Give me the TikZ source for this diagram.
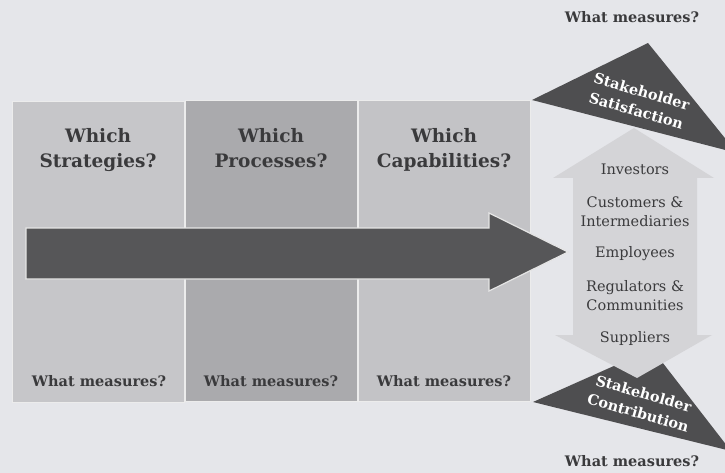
\documentclass[tikz,border=0pt]{standalone}
\usepackage{fontspec}
\setmainfont{DejaVu Serif}
\definecolor{bgc}{RGB}{229,230,234}
\definecolor{colA}{RGB}{198,198,201}
\definecolor{colB}{RGB}{170,170,173}
\definecolor{colC}{RGB}{195,195,198}
\definecolor{darkarrow}{RGB}{86,86,88}
\definecolor{darktri}{RGB}{78,78,80}
\definecolor{lightshape}{RGB}{212,212,215}
\definecolor{txt}{RGB}{58,58,60}
\tikzset{
  colbox/.style={draw=white!85!gray, line width=1.2pt, minimum width=172pt, minimum height=301pt, anchor=north west, inner sep=0pt},
  head/.style={font=\fontsize{18.5}{25}\selectfont\bfseries, text=txt, align=center, anchor=north, inner sep=0pt},
  meas/.style={font=\fontsize{14.5}{16}\selectfont\bfseries, text=txt},
  who/.style={font=\fontsize{14.5}{19}\selectfont, text=txt, align=center},
  tri/.style={font=\fontsize{14.5}{20}\selectfont\bfseries, text=white, align=center},
}
\begin{document}
\begin{tikzpicture}[x=1pt,y=-1pt]
\fill[bgc] (0,0) rectangle (725,473);
\useasboundingbox (0,0) rectangle (725,473);
% columns
\node[colbox, fill=colA] (c1) at (12,101) {};
\node[colbox, fill=colB] (c2) at (185,100) {};
\node[colbox, fill=colC] (c3) at (358,100) {};
% big arrow
\draw[fill=darkarrow, draw=white!80!gray, line width=1.2pt]
  (26,228) -- (489,228) -- (489,213) -- (568,252) -- (489,291) -- (489,279) -- (26,279) -- cycle;
% dark triangles
\fill[darktri] (532,100) -- (648,43) -- (737,153) -- cycle;
\fill[darktri] (533,402) -- (652,349) -- (731,451) -- cycle;
% light double arrow
\fill[lightshape] (634,128) -- (714,178) -- (697,178) -- (697,335) -- (712,335) -- (637,378)
  -- (555,335) -- (573,335) -- (573,178) -- (553,178) -- cycle;
% headings
\node[head] (h1) at (98,128) {Which\\Strategies?};
\node[head] (h2) at (271,128) {Which\\Processes?};
\node[head] (h3) at (444,128) {Which\\Capabilities?};
\node[meas] (m1) at (99,381) {What measures?};
\node[meas] (m2) at (271,381) {What measures?};
\node[meas] (m3) at (444,381) {What measures?};
\node[meas] (mt) at (632,17) {What measures?};
\node[meas] (mb) at (632,461) {What measures?};
% stakeholders
\node[who] (w1) at (635,169) {Investors};
\node[who] (w2) at (635,212) {Customers \&\\Intermediaries};
\node[who] (w3) at (635,254) {Employees};
\node[who] (w4) at (635,296) {Regulators \&\\Communities};
\node[who] (w5) at (635,338) {Suppliers};
% triangle labels
\node[tri, rotate=-16] (t1) at (639,101) {Stakeholder\\Satisfaction};
\node[tri, rotate=-16] (t2) at (641,403) {Stakeholder\\Contribution};
\end{tikzpicture}
\end{document}
